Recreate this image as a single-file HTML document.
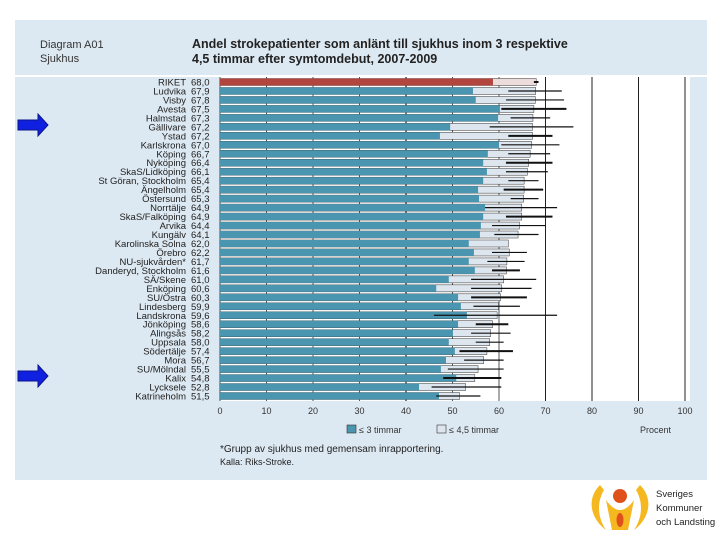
<!DOCTYPE html>
<html><head><meta charset="utf-8">
<style>
body{margin:0;width:720px;height:540px;background:#fff;overflow:hidden;font-family:"Liberation Sans",sans-serif;}
svg{display:block}
</style></head><body>
<svg id="c" width="720" height="540">
<rect x="15" y="20" width="692" height="460" fill="#dde9f2"/>
<line x1="15" y1="76" x2="707" y2="76" stroke="#fff" stroke-width="2"/>
<text x="40" y="48" font-size="11" fill="#333">Diagram A01</text>
<text x="40" y="62" font-size="11" fill="#333">Sjukhus</text>
<text x="192" y="48" font-size="12.5" font-weight="bold" fill="#222">Andel strokepatienter som anlänt till sjukhus inom 3 respektive</text>
<text x="192" y="63" font-size="12.5" font-weight="bold" fill="#222">4,5 timmar efter symtomdebut, 2007-2009</text>
<rect x="220" y="77" width="470" height="324" fill="#fff"/>
<g id="grid"></g><g id="bars"></g><g id="labels"></g><g id="axis"></g>
<polygon points="18,120 38,120 38,114 48,125 38,136 38,130 18,130" fill="#1020e0" stroke="#0a148a"/>
<polygon points="18,371 38,371 38,365 48,376 38,387 38,381 18,381" fill="#1020e0" stroke="#0a148a"/>
<rect x="347" y="425" width="9" height="8" fill="#4a95b0" stroke="#333" stroke-width="0.6"/>
<text x="359" y="433" font-size="9" fill="#333">≤ 3 timmar</text>
<rect x="437" y="425" width="9" height="8" fill="#dde6ee" stroke="#333" stroke-width="0.6"/>
<text x="449" y="433" font-size="9" fill="#333">≤ 4,5 timmar</text>
<text x="640" y="433" font-size="9" fill="#333">Procent</text>
<text x="220" y="452" font-size="10" fill="#222">*Grupp av sjukhus med gemensam inrapportering.</text>
<text x="220" y="465" font-size="9" fill="#222">Kalla: Riks-Stroke.</text>
<g>
<path d="M600,485 C585,500 592,520 606,530 C596,515 598,500 604,490 Z" fill="#f6b820"/>
<path d="M640,485 C655,500 648,520 634,530 C644,515 642,500 636,490 Z" fill="#f6b820"/>
<path d="M606,500 Q620,520 634,500 L628,530 L612,530 Z" fill="#f6b820"/>
<circle cx="620" cy="496" r="7" fill="#e0501a"/>
<ellipse cx="620" cy="520" rx="3.5" ry="7" fill="#e0501a"/>
<text x="656" y="497" font-size="9.5" fill="#222">Sveriges</text>
<text x="656" y="511" font-size="9.5" fill="#222">Kommuner</text>
<text x="656" y="525" font-size="9.5" fill="#222">och Landsting</text>
</g>
</svg>
<script>
const hospitals=["RIKET","Ludvika","Visby","Avesta","Halmstad","Gällivare","Ystad","Karlskrona","Köping","Nyköping","SkaS/Lidköping","St Göran, Stockholm","Ängelholm","Östersund","Norrtälje","SkaS/Falköping","Arvika","Kungälv","Karolinska Solna","Örebro","NU-sjukvården*","Danderyd, Stockholm","SÄ/Skene","Enköping","SU/Östra","Lindesberg","Landskrona","Jönköping","Alingsås","Uppsala","Södertälje","Mora","SU/Mölndal","Kalix","Lycksele","Katrineholm"];
const within45=[68.0,67.9,67.8,67.5,67.3,67.2,67.2,67.0,66.7,66.4,66.1,65.4,65.4,65.3,64.9,64.9,64.4,64.1,62.0,62.2,61.7,61.6,61.0,60.6,60.3,59.9,59.6,58.6,58.2,58.0,57.4,56.7,55.5,54.8,52.8,51.5];
const within3=[58.7,54.4,55.0,60.2,59.8,49.5,47.3,60.0,57.6,56.6,57.4,56.6,55.5,55.7,57.0,56.6,56.1,55.9,53.5,54.6,53.5,54.8,49.2,46.5,51.2,51.8,53.1,51.2,50.1,49.2,50.5,48.6,47.5,50.8,42.8,47.1];
const ciLow=[67.5,62.0,61.5,60.5,62.5,58.0,62.0,60.5,62.0,61.5,61.5,62.0,61.0,62.5,57.0,61.5,58.5,59.0,62.0,58.5,57.5,58.5,54.0,54.0,54.0,54.5,46.0,55.0,54.0,55.0,51.5,52.5,49.0,48.0,45.5,46.5];
const ciHigh=[68.5,73.5,74.0,74.5,71.0,76.0,71.5,73.0,71.0,71.5,70.5,68.5,69.5,68.5,72.5,71.5,70.0,68.5,62.0,66.0,65.5,64.5,68.0,67.0,66.0,64.5,72.5,62.0,62.5,61.0,63.0,61.0,61.0,60.5,60.5,56.0];
const ticks=[0,10,20,30,40,50,60,70,80,90,100];
const NS="http://www.w3.org/2000/svg";
const x=v=>220+v*4.65;
const y=i=>82+i*(314/35);
function mk(t,a,p){const e=document.createElementNS(NS,t);for(const k in a)e.setAttribute(k,a[k]);p.appendChild(e);return e;}
const G=document.getElementById('grid'),B=document.getElementById('bars'),L=document.getElementById('labels'),A=document.getElementById('axis');
ticks.forEach(t=>{
 const gl=mk('line',{x1:x(t),x2:x(t),y1:77,y2:401,stroke:t>=70?'#222':'#555','stroke-width':t===40?1.6:1},G);
 
 
 const tl=mk('text',{x:x(t),y:414,'font-size':9,'text-anchor':'middle',fill:'#333'},A);
 tl.textContent=t;
 
 
});
hospitals.forEach((h,i)=>{
 const cy=y(i);
 const lb=mk('rect',{x:x(0),y:cy-3.5,width:x(within45[i])-x(0),height:7,fill:i===0?'#eddcdc':'#dde6ee',stroke:'#333','stroke-width':0.5},B);
 
 
 const db=mk('rect',{x:x(0),y:cy-3.5,width:x(within3[i])-x(0),height:7,fill:i===0?'#b2463f':'#4a95b0'},B);
 
 
 const er=mk('line',{x1:x(ciLow[i]),x2:x(ciHigh[i]),y1:cy,y2:cy,stroke:'#111','stroke-width':i%3===0?2:1.2},B);
 
 
 const nm=mk('text',{x:186,y:cy+3.5,'font-size':9.5,'text-anchor':'end',fill:'#222'},L);
 nm.textContent=h;
 
 
 const vl=mk('text',{x:191,y:cy+3.5,'font-size':9.5,fill:'#222'},L);
 vl.textContent=within45[i].toFixed(1).replace('.',',');
 
 
});
</script>
</body></html>
